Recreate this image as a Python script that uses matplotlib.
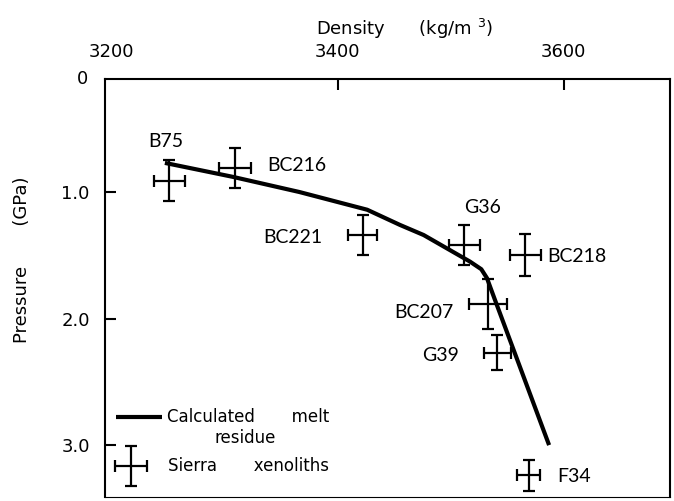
import matplotlib
matplotlib.use("Agg")
import matplotlib.pyplot as plt

plt.rcParams['font.family'] = ['Lato', 'DejaVu Sans']

# Sierra xenoliths: density (kg/m3), pressure (GPa) and error half-widths
samples = ['B75', 'BC216', 'BC221', 'G36', 'BC218', 'BC207', 'G39', 'F34']
density = [3251, 3309, 3422, 3512, 3566, 3533, 3541, 3569]
pressure = [0.91, 0.81, 1.34, 1.42, 1.50, 1.885, 2.27, 3.24]
density_err = [14, 14, 13, 14, 14, 17, 12, 10]
pressure_err = [0.16, 0.16, 0.16, 0.16, 0.165, 0.20, 0.14, 0.12]

# label anchors (left edge, vertical centre) in data units
label_x = [3232, 3338, 3334, 3512, 3585, 3450, 3475, 3594]
label_y = [0.60, 0.79, 1.36, 1.12, 1.51, 1.95, 2.29, 3.25]

# calculated melt residue curve
melt_density = [3247, 3307, 3366, 3426, 3455, 3476, 3517, 3527, 3532, 3539, 3587]
melt_pressure = [0.77, 0.88, 1.00, 1.14, 1.26, 1.34, 1.55, 1.61, 1.68, 1.85, 3.00]

# the axis text uses a wider face, like the spaced-out type of the original
AXIS_FONT = 'DejaVu Sans'

fig = plt.figure(figsize=(6.74, 5.01), dpi=100)
ax = fig.add_axes([105 / 674, 4 / 501, 565 / 674, 418 / 501])

ax.plot(melt_density, melt_pressure, color='black', lw=3, solid_capstyle='butt')
ax.errorbar(density, pressure, xerr=density_err, yerr=pressure_err, fmt='none',
            ecolor='black', elinewidth=1.6, capsize=4, capthick=1.6)

for name, lx, ly in zip(samples, label_x, label_y):
    ax.text(lx, ly, name, fontsize=14, va='center', ha='left')

# legend drawn by hand, lower left
ax.plot([3204, 3244], [2.78, 2.78], color='black', lw=3, solid_capstyle='butt')
ax.text(3249, 2.78, 'Calculated       melt', fontsize=12, va='center', ha='left',
        family=AXIS_FONT)
ax.text(3318, 2.94, 'residue', fontsize=12, va='center', ha='center',
        family=AXIS_FONT)
ax.errorbar([3217], [3.166], xerr=[14], yerr=[0.16], fmt='none',
            ecolor='black', elinewidth=1.6, capsize=4, capthick=1.6)
ax.text(3250, 3.166, 'Sierra       xenoliths', fontsize=12, va='center', ha='left',
        family=AXIS_FONT)

ax.set_xlim(3194, 3694)
ax.set_ylim(3.41, 0.107)

ax.xaxis.tick_top()
ax.xaxis.set_label_position('top')
ax.set_xticks([3200, 3400, 3600])
ax.set_xticklabels(['3200', '3400', '3600'], family=AXIS_FONT)
ax.xaxis.get_major_ticks()[0].tick2line.set_visible(False)
ax.set_yticks([1, 2, 3])
ax.set_yticklabels(['1.0', '2.0', '3.0'], family=AXIS_FONT)
ax.tick_params(axis='x', direction='in', length=8, width=1.5, labelsize=13, pad=13)
ax.tick_params(axis='y', direction='in', length=8, width=1.5, labelsize=13, pad=11)

ax.text(-0.04, 1.0, '0', transform=ax.transAxes, fontsize=13, ha='center',
        va='center', family=AXIS_FONT)

ax.set_xlabel('Density      (kg/m $^{3}$)', fontsize=13, family=AXIS_FONT)
ax.xaxis.set_label_coords(0.53, 1.105)
fig.text(22 / 674, 1 - 260 / 501, 'Pressure       (GPa)', rotation=90,
         fontsize=13, ha='center', va='center', family=AXIS_FONT)

for s in ax.spines.values():
    s.set_linewidth(1.5)
ax.spines['bottom'].set_linewidth(0.8)

fig.savefig('out.png', dpi=100)
